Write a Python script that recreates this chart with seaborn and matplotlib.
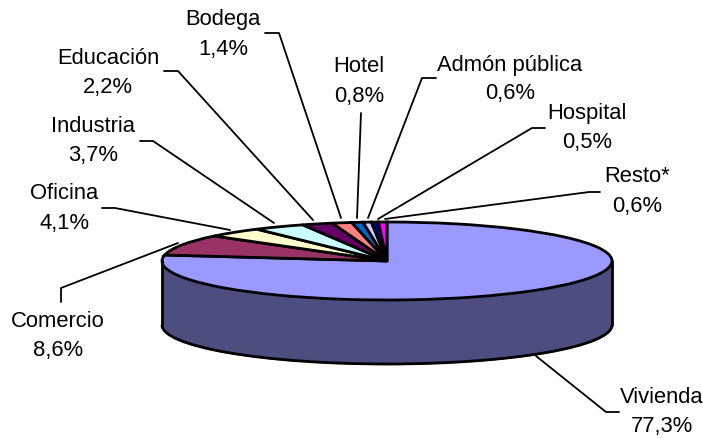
import matplotlib
matplotlib.use('Agg')
import matplotlib.pyplot as plt
from matplotlib.patches import Arc
import seaborn as sns

sectors = ['Vivienda', 'Comercio', 'Oficina', 'Industria', 'Educación', 'Bodega',
           'Hotel', 'Admón pública', 'Hospital', 'Resto*']
shares = [77.3, 8.6, 4.1, 3.7, 2.2, 1.4, 0.8, 0.6, 0.5, 0.6]
colors = ['#9999FF', '#993366', '#FFFFCC', '#CCFFFF', '#660066', '#FF8080',
          '#0066CC', '#CCCCFF', '#000080', '#FF00FF']
side_color = '#4D4D80'

# label placement in picture pixels: text centre x, name y, value y
label_pos = {
    'Vivienda': (662, 398, 427),
    'Comercio': (58, 322, 351),
    'Oficina': (64, 194, 224),
    'Industria': (93, 127, 156),
    'Educación': (108, 58, 87),
    'Bodega': (223, 19, 49),
    'Hotel': (359, 67, 97),
    'Admón pública': (510, 65, 94),
    'Hospital': (587, 114, 143),
    'Resto*': (637, 177, 207),
}
leaders = {
    'Vivienda': [(536, 357), (606, 413), (619, 413)],
    'Comercio': [(61, 303), (61, 289), (178, 244)],
    'Oficina': [(102, 209), (115, 209), (230, 231)],
    'Industria': [(140, 142), (153, 142), (274, 224)],
    'Educación': [(164, 72), (178, 72), (313, 221)],
    'Bodega': [(265, 34), (279, 34), (341, 219)],
    'Hotel': [(361, 114), (357, 219)],
    'Admón pública': [(436, 79), (422, 79), (368, 219)],
    'Hospital': [(545, 129), (532, 129), (378, 220)],
    'Resto*': [(600, 193), (589, 193), (385, 220)],
}

W, H = 703, 439
left, right, top, bottom = 162, 612, 223, 301
depth = 64

sns.set_theme(style='white')
plt.rcParams['font.family'] = ['Liberation Sans', 'DejaVu Sans']

fig = plt.figure(figsize=(W / 100, H / 100), dpi=100)

# pie axes: unit circle squashed into the ellipse, with room below for the side wall
ry = (bottom - top) / 2
d = depth / ry
ax = fig.add_axes([left / W, 1 - (bottom + depth) / H, (right - left) / W, (bottom + depth - top) / H])

ax.pie(shares, colors=[side_color] * len(shares), startangle=90, counterclock=False,
       center=(0, -d), wedgeprops=dict(linewidth=1.6, edgecolor=side_color))
ax.fill_between([-1, 1], -d, 0, color=side_color, linewidth=0)
ax.plot([-1, -1], [-d, 0], color='black', lw=2, clip_on=False)
ax.plot([1, 1], [-d, 0], color='black', lw=2, clip_on=False)
ax.pie(shares, colors=colors, startangle=90, counterclock=False,
       wedgeprops=dict(linewidth=2, edgecolor='black'))

# outline of the lower rim
ax.add_patch(Arc((0, -d), 2, 2, theta1=180, theta2=360, color='black', lw=2, clip_on=False))
ax.set_aspect('auto')
ax.set_xlim(-1, 1)
ax.set_ylim(-1 - d, 1)
for p in ax.patches:
    p.set_clip_on(False)

# overlay in pixel coordinates for labels and leader lines
ov = fig.add_axes([0, 0, 1, 1], facecolor='none')
ov.set_xlim(0, W)
ov.set_ylim(H, 0)
ov.axis('off')

for name, value in zip(sectors, shares):
    pts = leaders[name]
    ov.plot([p[0] for p in pts], [p[1] for p in pts], color='black', lw=1.3)
    x, y1, y2 = label_pos[name]
    ov.text(x, y1, name, ha='center', va='center', fontsize=15.8, color='black')
    ov.text(x, y2, f'{value:.1f}%'.replace('.', ','), ha='center', va='center', fontsize=15.8, color='black')

fig.savefig('out.png', dpi=100)
